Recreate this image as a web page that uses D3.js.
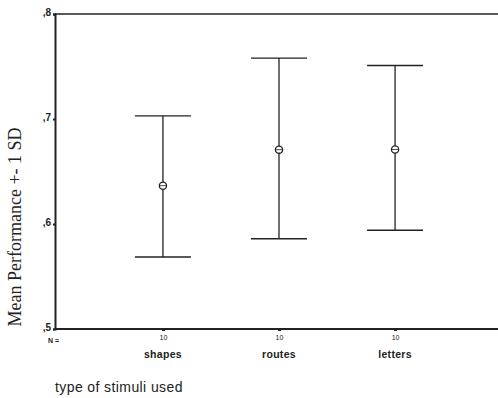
<!DOCTYPE html>
<html><head><meta charset="utf-8">
<script src="https://cdn.jsdelivr.net/npm/d3@7"></script>
<style>body{margin:0;background:#fff}svg{display:block}</style>
</head><body>
<script>
const categories = ["shapes", "routes", "letters"];
const means = [0.6365, 0.6708, 0.671];
const upper = [0.703, 0.758, 0.751];
const lower = [0.5686, 0.586, 0.594];
const counts = [10, 10, 10];
const yTicks = [0.5, 0.6, 0.7, 0.8];
const yTickLabels = [",5", ",6", ",7", ",8"];

const W = 498, H = 398;
const svg = d3.select("body").append("svg").attr("width", W).attr("height", H);
const mLeft = 55, mRight = 503, mTop = 14, mBottom = 329;

const y = d3.scaleLinear().domain([0.5, 0.8]).range([mBottom, mTop]);
const x = d3.scalePoint().domain(categories).range([mLeft, mRight]).padding(0.93);

const ink = "#222";

// top frame line
svg.append("line").attr("x1", mLeft).attr("x2", W).attr("y1", y(0.8)).attr("y2", y(0.8))
  .attr("stroke", ink).attr("stroke-width", 1.6);

// y axis
const yAxis = d3.axisLeft(y).tickValues(yTicks).tickSize(2).tickFormat((d, i) => yTickLabels[i]);
const gy = svg.append("g").attr("transform", `translate(${mLeft},0)`).call(yAxis);
gy.select(".domain").attr("stroke", ink).attr("stroke-width", 2);
gy.selectAll(".tick line").attr("stroke", ink).attr("stroke-width", 2);
gy.selectAll(".tick text").attr("font-family", "Liberation Sans, Arial, sans-serif")
  .attr("font-size", 10).attr("font-weight", "bold").attr("fill", ink).attr("x", -4).attr("dy", "0.1em");

// x axis
const xAxis = d3.axisBottom(x).tickSize(2).tickFormat((d, i) => counts[i]);
const gx = svg.append("g").attr("transform", `translate(0,${mBottom})`).call(xAxis);
gx.select(".domain").attr("stroke", ink).attr("stroke-width", 2.2).attr("d", `M${mLeft},0H${W}`);
gx.selectAll(".tick line").attr("stroke", ink).attr("stroke-width", 3);
gx.selectAll(".tick text").attr("font-family", "Liberation Sans, Arial, sans-serif")
  .attr("font-size", 7).attr("fill", ink).attr("y", 6);

// category names
svg.append("g").selectAll("text").data(categories).join("text")
  .attr("x", d => x(d)).attr("y", 358).attr("text-anchor", "middle")
  .attr("font-family", "Liberation Sans, Arial, sans-serif").attr("font-size", 10.5)
  .attr("font-weight", "bold").attr("letter-spacing", 0.3).attr("fill", ink).text(d => d);

svg.append("text").attr("x", 48).attr("y", 343).attr("font-family", "Liberation Sans, Arial, sans-serif")
  .attr("font-size", 7).attr("font-weight", "bold").attr("fill", ink).text("N =");

// error bars
const capW = 28;
const g = svg.append("g");
categories.forEach((c, i) => {
  const cx = x(c);
  g.append("line").attr("x1", cx).attr("x2", cx).attr("y1", y(upper[i])).attr("y2", y(lower[i]))
    .attr("stroke", ink).attr("stroke-width", 1.3);
  [upper[i], lower[i]].forEach(v => {
    g.append("line").attr("x1", cx - capW).attr("x2", cx + capW).attr("y1", y(v)).attr("y2", y(v))
      .attr("stroke", ink).attr("stroke-width", 1.4);
  });
  g.append("circle").attr("cx", cx).attr("cy", y(means[i])).attr("r", 3.6)
    .attr("fill", "#fff").attr("stroke", ink).attr("stroke-width", 1.3);
  g.append("line").attr("x1", cx - 3.6).attr("x2", cx + 3.6).attr("y1", y(means[i])).attr("y2", y(means[i]))
    .attr("stroke", ink).attr("stroke-width", 0.8);
});

// axis titles
svg.append("text").attr("transform", "translate(21,227) rotate(-90)").attr("text-anchor", "middle")
  .attr("font-family", "Liberation Serif, Times New Roman, serif").attr("font-size", 18)
  .attr("fill", ink).text("Mean Performance +- 1 SD");

svg.append("text").attr("x", 55).attr("y", 392).attr("font-family", "Liberation Sans, Arial, sans-serif")
  .attr("font-size", 14).attr("letter-spacing", 0.4)
  .attr("fill", ink).text("type of stimuli used");
</script>
</body></html>
